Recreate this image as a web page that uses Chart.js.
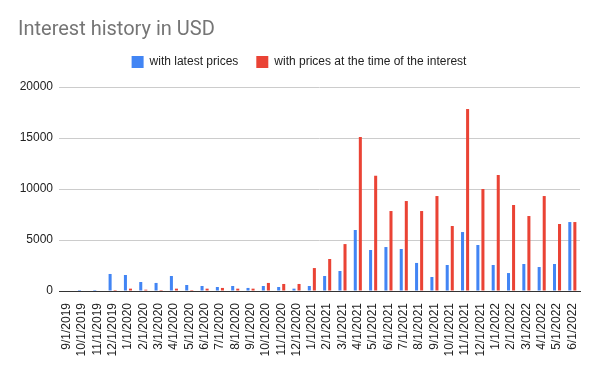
<!DOCTYPE html>
<html><head><meta charset="utf-8">
<script src="https://cdn.jsdelivr.net/npm/chart.js@4.4.0/dist/chart.umd.min.js"></script>
<style>html,body{margin:0;padding:0;background:#fff}#wrap{width:600px;height:371px}</style>
</head><body><div id="wrap"><canvas id="c" width="600" height="371"></canvas></div>
<script>
const categories = ["9/1/2019","10/1/2019","11/1/2019","12/1/2019","1/1/2020","2/1/2020","3/1/2020","4/1/2020","5/1/2020","6/1/2020","7/1/2020","8/1/2020","9/1/2020","10/1/2020","11/1/2020","12/1/2020","1/1/2021","2/1/2021","3/1/2021","4/1/2021","5/1/2021","6/1/2021","7/1/2021","8/1/2021","9/1/2021","10/1/2021","11/1/2021","12/1/2021","1/1/2022","2/1/2022","3/1/2022","4/1/2022","5/1/2022","6/1/2022"];
const latestPrices = [0,100,100,1670,1570,880,790,1470,590,490,390,490,300,490,390,230,490,1470,1960,5980,4020,4310,4120,2750,1370,2550,5780,4510,2550,1760,2650,2350,2650,6760];
const pricesAtTime = [0,0,0,100,230,130,100,230,100,230,300,230,230,790,690,690,2250,3140,4600,15100,11300,7840,8820,7840,9310,6370,17840,10000,11370,8430,7350,9310,6570,6760];
const yTicks = [0,5000,10000,15000,20000];

const spacerPlugin = {
  id: 'spacer',
  beforeInit(chart) {
    const box = {
      position: 'top', weight: 500, fullSize: true, options: {},
      left: 0, top: 0, right: 0, bottom: 0, width: 0, height: 0,
      isHorizontal() { return true; },
      update(maxWidth) { this.width = maxWidth; this.height = 9; return {width: maxWidth, height: 9}; },
      draw() {}
    };
    Chart.layouts.addBox(chart, box);
  }
};

new Chart(document.getElementById('c'), {
  type: 'bar',
  data: {
    labels: categories,
    datasets: [
      {label: 'with latest prices', data: latestPrices, backgroundColor: '#4285F4', categoryPercentage: 0.66, barPercentage: 0.6},
      {label: 'with prices at the time of the interest', data: pricesAtTime, backgroundColor: '#EA4335', categoryPercentage: 0.66, barPercentage: 0.6}
    ]
  },
  plugins: [spacerPlugin],
  options: {
    responsive: false,
    animation: false,
    layout: {padding: {left: 18, right: 20, top: 0, bottom: 0}},
    plugins: {
      title: {display: true, text: 'Interest history in USD', align: 'start', color: '#757575',
        font: {family: 'Roboto', size: 20, weight: 'normal', lineHeight: 0.8}, padding: {top: 22, bottom: 0}},
      legend: {position: 'top', labels: {boxWidth: 12, boxHeight: 12, color: '#222', padding: 18,
        font: {family: 'Liberation Sans, Arial', size: 12}}},
      tooltip: {enabled: false}
    },
    scales: {
      x: {
        grid: {display: false},
        border: {display: true, color: '#333'},
        ticks: {autoSkip: false, maxRotation: 90, minRotation: 90, color: '#222', padding: 4,
          font: {family: 'Liberation Sans, Arial', size: 12}},
        afterFit: s => { s.height = 80; }
      },
      y: {
        min: 0, max: 20000,
        afterBuildTicks: s => { s.ticks = yTicks.map(v => ({value: v})); },
        grid: {color: '#cccccc', drawTicks: false},
        border: {display: false},
        ticks: {color: '#222', padding: 6, font: {family: 'Liberation Sans, Arial', size: 12},
          callback: v => String(v)},
        afterFit: s => { s.width = 41; }
      }
    }
  }
});
</script></body></html>
